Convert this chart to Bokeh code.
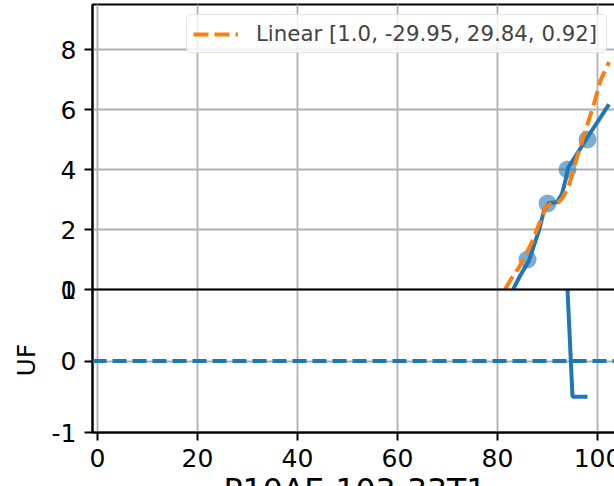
from bokeh.plotting import figure
from bokeh.models import Range1d, FixedTicker, Span, Legend, Title
from bokeh.embed import file_html
from bokeh.resources import INLINE

# ---- data ----
points_x = [86, 90, 94, 98]
points_y = [1.0, 2.87, 4.0, 5.0]

smooth_x = [83.1, 84.5, 86.3, 88.3, 89.3, 90.3, 91.9, 92.9, 93.6, 94.1, 97.9, 102.3]
smooth_y = [0.0, 0.45, 0.97, 1.97, 2.63, 2.88, 2.91, 3.19, 3.63, 4.05, 5.05, 6.17]

fit_x = [81.5, 82.6, 84.3, 86.9, 88.6, 89.6, 90.6, 92.0, 93.0, 94.3, 95.9, 97.6, 99.3, 100.6, 102.3]
fit_y = [0.0, 0.32, 0.74, 1.58, 2.3, 2.74, 2.85, 2.88, 3.05, 3.47, 4.41, 5.3, 6.19, 6.97, 7.58]
fit_label = "Linear [1.0, -29.95, 29.84, 0.92]"

uf_x = [94, 95, 98]
uf_y = [1.0, -0.5, -0.5]
uf_ref = 0.0

x_ticks = [0, 20, 40, 60, 80, 100]
top_ticks = [0, 2, 4, 6, 8]
bottom_ticks = [-1, 0, 1]
x_label = "P10AE-103-33T1"
y_label_bottom = "UF"

# ---- layout ----
BLUE = "#1f77b4"
ORANGE = "#ff7f0e"
FONT = "DejaVu Sans"

TOP_LO, TOP_HI = 0.0, 9.5
BOT_LO, BOT_HI = -1.0, 1.0
top_h, bot_h = 285.0, 143.0
main_lo = TOP_LO - (TOP_HI - TOP_LO) * bot_h / top_h
bot_hi_ext = BOT_HI + (BOT_HI - BOT_LO) * top_h / bot_h

p = figure(width=640, height=522, x_range=Range1d(-1, 104),
           y_range=Range1d(main_lo, TOP_HI), output_backend="svg",
           toolbar_location=None, min_border_left=92, min_border_right=23,
           min_border_top=4, min_border_bottom=90)
p.extra_y_ranges = {"bottom": Range1d(BOT_LO, bot_hi_ext)}
p.outline_line_color = "black"
p.outline_line_width = 2
p.background_fill_color = "white"
p.border_fill_color = "white"


def to_main(v):
    return main_lo + (v - BOT_LO) * (TOP_HI - main_lo) / (bot_hi_ext - BOT_LO) + 1e-9


y_tick_pos = [float(t) for t in top_ticks] + [to_main(t) for t in bottom_ticks]
overrides = {float(t): str(t) for t in top_ticks}
for t in bottom_ticks:
    overrides[to_main(t)] = str(t)

for ax in (p.xaxis[0], p.yaxis[0]):
    ax.axis_line_color = "black"
    ax.axis_line_width = 2
    ax.major_tick_line_color = "black"
    ax.major_tick_line_width = 2
    ax.major_tick_in = 0
    ax.major_tick_out = 8
    ax.minor_tick_line_color = None
    ax.major_label_text_font = FONT
    ax.major_label_text_font_size = "25px"
    ax.major_label_text_color = "black"
    ax.major_label_standoff = 8

p.xaxis.ticker = FixedTicker(ticks=x_ticks)
p.yaxis.ticker = FixedTicker(ticks=y_tick_pos)
p.yaxis.major_label_overrides = overrides

p.xaxis.axis_label = x_label
p.xaxis.axis_label_text_font = FONT
p.xaxis.axis_label_text_font_size = "31.5px"
p.xaxis.axis_label_text_font_style = "normal"
p.xaxis.axis_label_text_color = "black"
p.xaxis.axis_label_standoff = 2

p.grid.grid_line_color = "#b0b0b0"
p.grid.grid_line_width = 1.8

# boundary between the two panels
p.add_layout(Span(location=TOP_LO, dimension="width", line_color="black", line_width=2))

# top panel
p.scatter(points_x, points_y, size=18, fill_color=BLUE, fill_alpha=0.6, line_color=None)
p.line(smooth_x, smooth_y, line_color=BLUE, line_width=4)
fit = p.line(fit_x, fit_y, line_color=ORANGE, line_width=4, line_dash="15 6")

# bottom panel
p.add_layout(Span(location=uf_ref, dimension="width", y_range_name="bottom",
                  line_color=BLUE, line_width=4, line_dash="14 6"))
p.line(uf_x, uf_y, line_color=BLUE, line_width=4, y_range_name="bottom")

legend = Legend(items=[(fit_label, [fit])], location="top_right", margin=10,
                padding=6, glyph_width=45, label_standoff=18, label_width=344,
                label_text_font=FONT, label_text_font_size="21.3px",
                border_line_color="#cccccc", border_line_width=1.5,
                background_fill_alpha=0.8)
if "border_radius" in Legend.properties():
    legend.border_radius = 5
p.add_layout(legend)

uf_title = Title(text=y_label_bottom, align="left", offset=56, text_font=FONT,
                 text_font_size="25px", text_font_style="normal", text_color="black")
if "standoff" in Title.properties():
    uf_title.standoff = 15
p.add_layout(uf_title, "left")

open("out.html", "w").write(file_html(p, INLINE))
